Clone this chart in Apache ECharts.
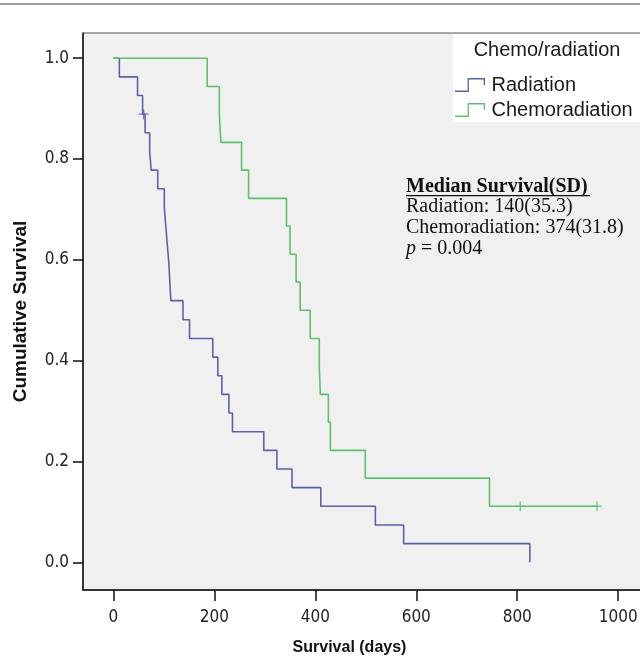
<!DOCTYPE html>
<html>
<head>
<meta charset="utf-8">
<script src="https://cdn.jsdelivr.net/npm/echarts@6/dist/echarts.min.js"></script>
<style>
html, body { margin: 0; padding: 0; background: #fff; }
#main { width: 640px; height: 659px; }
</style>
</head>
<body>
<div id="main"></div>
<script>
// Kaplan-Meier steps: day of each drop and survival after it
const radiationDays = [0, 12, 48, 58, 63, 72, 75, 88, 101, 104, 107, 110, 112, 114, 138, 151, 197, 207, 215, 229, 236, 298, 324, 354, 411, 519, 575, 825];
const radiationSurv = [1, 0.963, 0.926, 0.889, 0.852, 0.815, 0.778, 0.741, 0.704, 0.667, 0.630, 0.593, 0.556, 0.519, 0.481, 0.444, 0.407, 0.370, 0.333, 0.296, 0.259, 0.222, 0.185, 0.148, 0.111, 0.074, 0.037, 0];
const radiationCensorDays = [60];
const radiationCensorSurv = [0.889];

const chemoDays = [0, 186, 210, 213, 254, 268, 343, 350, 362, 370, 390, 408, 410, 426, 430, 499, 745, 960];
const chemoSurv = [1, 0.944, 0.889, 0.833, 0.778, 0.722, 0.667, 0.611, 0.556, 0.500, 0.444, 0.389, 0.333, 0.278, 0.222, 0.167, 0.111, 0.111];
const chemoCensorDays = [806, 958];
const chemoCensorSurv = [0.111, 0.111];

const groupNames = ['Radiation', 'Chemoradiation'];
const xTicks = [0, 200, 400, 600, 800, 1000];
const yTicks = [0, 0.2, 0.4, 0.6, 0.8, 1.0];
const annotationLines = ['Radiation: 140(35.3)', 'Chemoradiation: 374(31.8)'];

const blue = '#5a61a8';
const green = '#5fbf6f';
const tickFont = "'Liberation Sans Narrow', 'DejaVu Sans Condensed', 'Liberation Sans'";
const plusIcon = 'path://M4.3,0h1.4v10h-1.4z M0,4.3h10v1.4h-10z';
const stepIcon = 'path://M0,12.6H12.6V0H30V7H28.7V1.4H13.9V14H0Z';

function zip(a, b) {
  return a.map((v, i) => [v, b[i]]);
}

const myChart = echarts.init(document.getElementById('main'));

const option = {
  animation: false,
  backgroundColor: '#fff',
  grid: {
    left: 83,
    right: -6,
    top: 33,
    bottom: 69,
    outerBoundsMode: 'none',
    containLabel: false,
    show: true,
    backgroundColor: '#f0f0f0',
    borderColor: '#555',
    borderWidth: 1
  },
  xAxis: {
    type: 'value',
    min: -60,
    max: 1055,
    name: 'Survival (days)',
    nameLocation: 'middle',
    nameGap: 50,
    nameTextStyle: { fontFamily: 'Liberation Sans', fontWeight: 'bold', fontSize: 16, color: '#111', padding: [0, 30, 0, 0] },
    axisLine: { onZero: false, lineStyle: { color: '#111', width: 1.5 } },
    axisTick: { length: 11, customValues: xTicks, lineStyle: { color: '#111', width: 1.5 } },
    axisLabel: {
      customValues: xTicks,
      margin: 19,
      fontFamily: tickFont,
      fontSize: 17,
      color: '#222',
      formatter: v => String(v)
    },
    splitLine: { show: false }
  },
  yAxis: {
    type: 'value',
    min: -0.055,
    max: 1.05,
    name: 'Cumulative Survival',
    nameLocation: 'middle',
    nameRotate: 90,
    nameGap: 53,
    nameTextStyle: { fontFamily: 'Liberation Sans', fontWeight: 'bold', fontSize: 19, color: '#111' },
    axisLine: { onZero: false, lineStyle: { color: '#111', width: 1.5 } },
    axisTick: { length: 10, customValues: yTicks, lineStyle: { color: '#111', width: 1.5 } },
    axisLabel: {
      customValues: yTicks,
      margin: 14,
      fontFamily: tickFont,
      fontSize: 17,
      color: '#222',
      formatter: v => v.toFixed(1)
    },
    splitLine: { show: false }
  },
  legend: {
    orient: 'vertical',
    left: 450,
    top: 69,
    itemWidth: 33,
    itemHeight: 14,
    itemGap: 3,
    icon: stepIcon,
    textStyle: { fontFamily: 'Liberation Sans', fontSize: 20, color: '#1a1a1a', lineHeight: 22 },
    data: [
      { name: groupNames[0], itemStyle: { color: blue } },
      { name: groupNames[1], itemStyle: { color: green } }
    ]
  },
  graphic: [
    { type: 'rect', left: 0, top: 3, shape: { width: 640, height: 2 }, style: { fill: '#9c9c9c' } },
    { type: 'rect', left: 453, top: 34, z: 1, shape: { width: 190, height: 88 }, style: { fill: '#fff' } },
    {
      type: 'text', x: 547, y: 50, z: 2,
      style: { text: 'Chemo/radiation', fontFamily: 'Liberation Sans', fontSize: 20, fill: '#1a1a1a', align: 'center', verticalAlign: 'middle' }
    },
    {
      type: 'text', x: 406, y: 187, z: 2,
      style: { text: 'Median Survival(SD)', fontFamily: 'Liberation Serif', fontWeight: 'bold', fontSize: 20, fill: '#111', verticalAlign: 'middle' }
    },
    { type: 'rect', left: 406, top: 195, z: 2, shape: { width: 184, height: 1.3 }, style: { fill: '#111' } },
    {
      type: 'text', x: 406, y: 207, z: 2,
      style: { text: annotationLines[0], fontFamily: 'Liberation Serif', fontSize: 20, fill: '#111', verticalAlign: 'middle' }
    },
    {
      type: 'text', x: 406, y: 228, z: 2,
      style: { text: annotationLines[1], fontFamily: 'Liberation Serif', fontSize: 20, fill: '#111', verticalAlign: 'middle' }
    },
    {
      type: 'text', x: 406, y: 249, z: 2,
      style: {
        text: '{p|p} = 0.004',
        fontFamily: 'Liberation Serif', fontSize: 20, fill: '#111', verticalAlign: 'middle',
        rich: { p: { fontFamily: 'Liberation Serif', fontStyle: 'italic', fontSize: 20, fill: '#111' } }
      }
    }
  ],
  series: [
    {
      name: groupNames[0],
      type: 'line',
      step: 'end',
      symbol: 'none',
      lineStyle: { color: blue, width: 1.6 },
      itemStyle: { color: blue },
      data: zip(radiationDays, radiationSurv)
    },
    {
      name: groupNames[1],
      type: 'line',
      step: 'end',
      symbol: 'none',
      lineStyle: { color: green, width: 1.6 },
      itemStyle: { color: green },
      data: zip(chemoDays, chemoSurv)
    },
    {
      name: 'Radiation censored',
      type: 'scatter',
      symbol: plusIcon,
      symbolSize: 10,
      itemStyle: { color: blue },
      data: zip(radiationCensorDays, radiationCensorSurv)
    },
    {
      name: 'Chemoradiation censored',
      type: 'scatter',
      symbol: plusIcon,
      symbolSize: 10,
      itemStyle: { color: green },
      data: zip(chemoCensorDays, chemoCensorSurv)
    }
  ]
};

myChart.setOption(option);
</script>
</body>
</html>
